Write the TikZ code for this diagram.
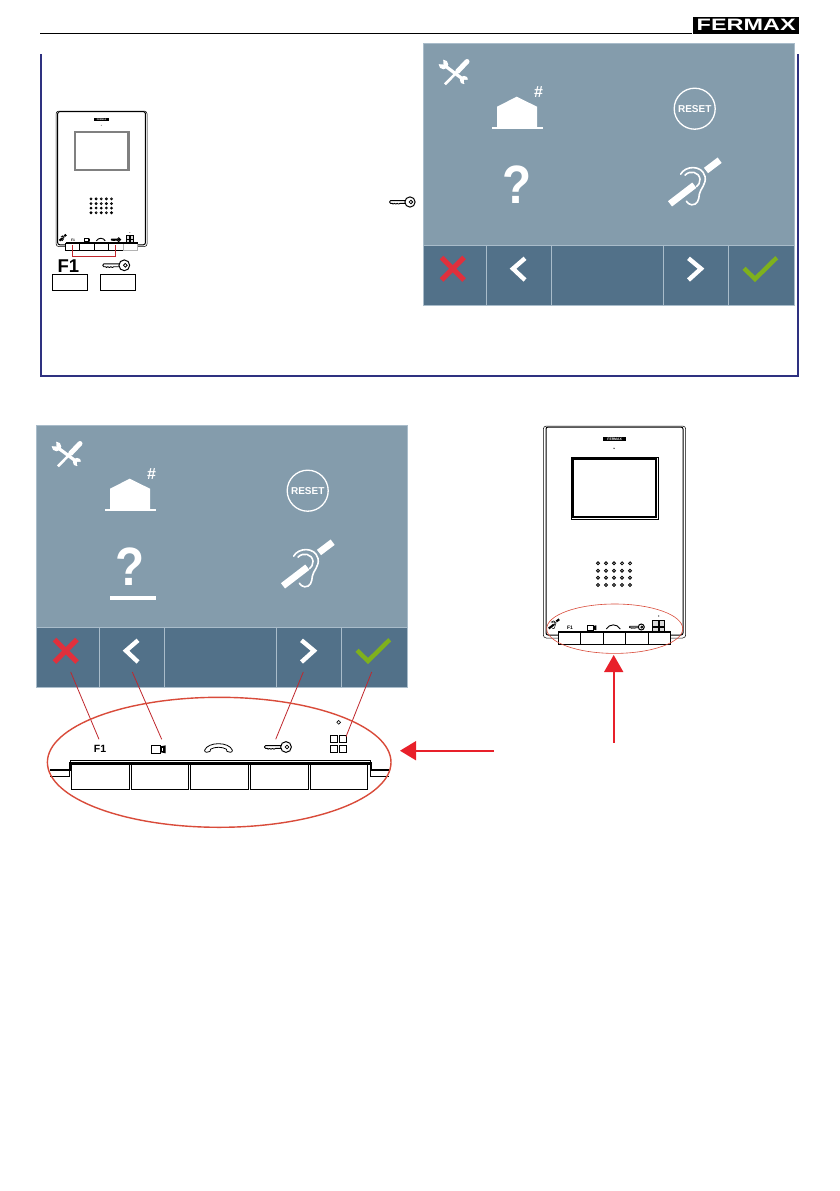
\documentclass[tikz,border=0pt]{standalone}
\usepackage{fontspec}
\usepackage{graphicx}
\usetikzlibrary{shapes.geometric}
\setmainfont{Liberation Sans}
\definecolor{scr}{HTML}{849CAC}
\definecolor{scrbar}{HTML}{527189}
\definecolor{scrline}{HTML}{A9BCCA}
\definecolor{frameblue}{HTML}{2E3180}
\definecolor{xred}{HTML}{E0303C}
\definecolor{okgreen}{HTML}{7FB11C}
\definecolor{linkred}{HTML}{C0272D}
\definecolor{ringred}{HTML}{D94B3A}
\definecolor{arrowred}{HTML}{E8202A}
\tikzset{
  txt/.style={inner sep=0pt,outer sep=0pt,text depth=0pt},
  link/.style={linkred,line width=.8pt},
  bigarrow/.style={arrowred,line width=2pt},
  arrowhead/.style={fill=arrowred,draw=none},
  btn/.style={draw=black,line width=1pt,fill=white},
}
% key icon: origin at the centre of the head
\newcommand{\keyicon}[3]{%
  \begin{scope}[shift={(#1,#2)},scale=#3]
    \draw[black,line width=1pt] (0,0) circle (5.4);
    \draw[black,line width=.8pt] (1,0) circle (1.9);
    \draw[black,line width=.9pt,line join=round]
      (-5.2,-1.4) -- (-20.5,-1.4) -- (-21.6,0) -- (-20.5,1.4) -- (-18.5,1.4) -- (-18,2.2) -- (-16.5,1.4) -- (-15,2.2) -- (-13.5,1.4) -- (-12,2.2) -- (-10.5,1.4) -- (-5.2,1.4);
  \end{scope}}
% hearing-loop icon, drawn in units of 1/3 px at scale 1/3
\newcommand{\earicon}[5]{%
  \begin{scope}[shift={(#1,#2)},scale=#3]
    \draw[#4,line width=#5,line cap=round]
      (-43,-25) .. controls (-30,-50) and (20,-55) .. (30,-18)
      .. controls (35,5) and (15,20) .. (13,35)
      .. controls (12,50) and (8,68) .. (-10,67)
      .. controls (-18,66) and (-22,62) .. (-26,56);
    \draw[#4,line width=#5,line cap=round]
      (-30,-22) .. controls (-15,-38) and (12,-32) .. (15,-10)
      .. controls (16,0) and (10,8) .. (5,12);
    \draw[#4,line width=4.2*#5,line cap=butt] (-75,64) -- (-2,8);
    \draw[#4,line width=4.2*#5,line cap=butt] (33,-36) -- (74,-67);
  \end{scope}}
% touch screen panel: origin top-left, 371 x 262
\newcommand{\panel}[2]{%
  \begin{scope}[shift={(#1,#2)}]
    \fill[scr] (0,0) rectangle (371,202);
    \fill[scrbar] (0,202) rectangle (371,262);
    \draw[scrline,line width=.6pt] (0,0) rectangle (371,262);
    \draw[scrline,line width=1pt] (0,202) -- (371,202);
    \foreach \px in {63,128,240,305} \draw[scrline,line width=1pt] (\px,202) -- (\px,262);
    % tools: wrench
    \draw[white,line width=3.2pt] (20.5,21.7) -- (41,37);
    \fill[white] (20.5,21.5) circle (4.8);
    \fill[white] (41,37) circle (4.2);
    \fill[scr] (20.5,21.5) -- (14.5,21) -- (14.5,15) -- (20,15) -- cycle;
    \fill[scr] (41,37) -- (47,36.5) -- (47,43) -- (41.5,43) -- cycle;
    % tools: screwdriver
    \draw[white,line width=2.6pt] (22,41.3) -- (34.7,28.3);
    \draw[white,line width=5pt,line cap=round] (34.7,28.3) -- (44,18.5);
    % house
    \fill[white] (74,84.5) -- (74,63.7) -- (93.7,53.7) -- (114,63.7) -- (114,84.5) -- cycle;
    \draw[white,line width=1.5pt] (69,85.2) -- (120,85.2);
    \node[txt,white,font=\bfseries\fontsize{16}{16}\selectfont] at (115.5,49) {\#};
    % reset
    \draw[white,line width=1.3pt] (271.7,65.7) circle (20.5);
    \node[txt,white,font=\bfseries\fontsize{10}{10}\selectfont] at (271.7,65.7) {RESET};
    % help
    \node[txt,white,font=\bfseries\fontsize{54}{54}\selectfont] at (94.5,142) {\scalebox{.88}[1]{?}};
    % hearing
    \earicon{272}{139.5}{.3333}{white}{1.6pt}
    % bar symbols
    \draw[xred,line width=5pt] (18.5,214.5) -- (41,237);
    \draw[xred,line width=5pt] (41,214.5) -- (18.5,237);
    \draw[white,line width=4.4pt,line join=miter] (102,215.3) -- (90,225.7) -- (102,237);
    \draw[white,line width=4.4pt,line join=miter] (265.5,215.3) -- (278,225.7) -- (265.5,237);
    \draw[okgreen,line width=4.4pt,line join=miter] (321,225.3) -- (332,236) -- (353.7,214.7);
  \end{scope}}
% intercom front: origin top-left, full size 142.4 x 218
% #1 x, #2 y, #3 scale, #4 screen colour, #5 last button colour, #6 logo font size, #7 F1 font size
\newcommand{\monitor}[7]{%
  \begin{scope}[shift={(#1,#2)},scale=#3]
    \draw[black,line width=.5pt,rounded corners=3pt] (15,212) -- (0,212) -- (0,0) -- (142.4,0) -- (142.4,212) -- (127,212);
    \draw[black,line width=1pt,rounded corners=2pt] (15,209) -- (2.7,209) -- (2.7,1) -- (139.7,1) -- (139.7,209) -- (127,209);
    \fill[black] (60,10.7) rectangle (82.7,15);
    \node[txt,white,font=\bfseries\fontsize{#6}{4}\selectfont] at (71.3,12.9) {FERMAX};
    \fill[black] (70.7,22.3) circle (.7);
    \draw[#4,line width=.7pt] (28,31.3) rectangle (114.7,93.3);
    \draw[#4,line width=1.8pt] (30,33.3) rectangle (112.7,91.3);
    \foreach \gx in {54.7,62.7,70.7,78.7,86.7}
      \foreach \gy in {137.3,144.7,151.7,159}
        \draw[black,line width=.8pt] (\gx,\gy) circle (1.5);
    \earicon{10.7}{198}{.07}{black}{.5pt}
    \node[txt,font=\bfseries\fontsize{#7}{5}\selectfont] at (26.7,201.5) {F1};
    \draw[black,line width=.9pt,fill=white] (44.5,199.5) rectangle (50,204);
    \fill[black] (50,200) -- (53,199.3) -- (53,204.2) -- (50,203.5) -- cycle;
    \draw[black,line width=.9pt] (63,203) .. controls (66,197.5) and (74,197.5) .. (77,203);
    \keyicon{98}{201}{.55}
    \foreach \gx/\gy in {109.5/194.5,116/194.5,109.5/201,116/201}
      \draw[black,line width=.9pt,fill=black!15] (\gx,\gy) rectangle ++(5.5,5.5);
    \fill[black] (115.4,190) circle (.7);
    \draw[btn] (15,206.8) rectangle (37.3,218);
    \draw[btn] (37.3,206.8) rectangle (60,218);
    \draw[btn] (60,206.8) rectangle (82.4,218);
    \draw[btn] (82.4,206.8) rectangle (104.7,218);
    \draw[#5,line width=1pt,fill=white] (104.7,206.8) rectangle (127.4,218);
    \draw[black,line width=1.8pt] (15,206.3) -- (127.4,206.3);
  \end{scope}}
\begin{document}
\begin{tikzpicture}[x=1pt,y=-1pt]
  \useasboundingbox (0,0) rectangle (839,1191);
  \fill[white] (0,0) rectangle (839,1191);
  % header
  \draw[black,line width=1pt] (40,33.3) -- (692,33.3);
  \node[draw=none,fill=black,minimum width=106pt,minimum height=17pt,inner sep=0pt,anchor=north west] (logo) at (693,16.3) {};
  \node[txt,white,font=\bfseries\fontsize{16.5}{16.5}\selectfont] (logotext) at (logo.center) {\scalebox{1.42}[1]{FERMAX}};
  % blue frame
  \draw[frameblue,line width=2.2pt,line join=miter] (41,54) -- (41,376) -- (798,376) -- (798,54);
  % panels
  \panel{423}{43}
  \panel{36}{425}
  % selection bar
  \fill[white] (110,596) rectangle (156,600);
  % small monitor in the box
  \monitor{56}{111}{.64}{black!50}{black!30}{2.2}{3.4}
  \coordinate (bracketA) at (72.3,245);
  \coordinate (bracketB) at (115.7,245);
  \coordinate (bracketC) at (72.3,256.3);
  \coordinate (bracketD) at (115.7,256.3);
  \draw[linkred,line width=.8pt] (bracketA) -- (bracketC) -- (bracketD) -- (bracketB);
  \node[txt,font=\bfseries\fontsize{18.5}{18}\selectfont] (smallF) at (68.3,265.7) {F1};
  \keyicon{124.3}{265.3}{1}
  \draw[black,line width=.8pt] (52.3,274.3) rectangle (87.7,290.3);
  \draw[black,line width=.8pt] (100.3,274.3) rectangle (135.7,290.3);
  \keyicon{410}{202}{.95}
  % large monitor
  \monitor{543.3}{426}{1}{black}{black}{3.4}{5}
  \node[draw=ringred,line width=.6pt,ellipse,minimum width=136pt,minimum height=49.4pt,inner sep=0pt] (ringB) at (614.7,628.7) {};
  \coordinate (vTail) at (613.7,742.7);
  \coordinate (vBase) at (613.7,672);
  \coordinate (vTip) at (613.7,655);
  \draw[bigarrow] (vTail) -- (vBase);
  \fill[arrowhead] (vTip) -- (604,672) -- (623.4,672) -- cycle;
  % keypad enlargement
  \draw[black,line width=.8pt] (70,760.3) -- (370.3,760.3);
  \draw[black,line width=.8pt] (70,760.3) -- (70,764);
  \draw[black,line width=.8pt] (370.3,760.3) -- (370.3,764);
  \foreach \xa/\xb in {71.3/129.3,131.3/188.7,190.3/248.7,250.3/308.3,310.3/367.3}
    \draw[black,line width=.8pt,fill=white] (\xa,764) rectangle (\xb,789.3);
  \draw[black,line width=2.6pt] (69,763.6) -- (371.5,763.6);
  \draw[black,line width=2pt] (50,769.5) -- (69.5,769.5) -- (69.5,763);
  \draw[black,line width=2pt] (389,769.5) -- (370.5,769.5) -- (370.5,763);
  \draw[black,line width=.6pt] (50,776.6) -- (69.5,776.6) -- (69.5,770);
  \draw[black,line width=.6pt] (389,776.6) -- (370.5,776.6) -- (370.5,770);
  \node[txt,font=\bfseries\fontsize{10.5}{10}\selectfont] (f1) at (100,749) {F1};
  \draw[black,line width=.9pt] (151.7,745.6) rectangle (160.7,753);
  \fill[black] (160.7,746.3) -- (165.7,745.3) -- (165.7,753.3) -- (160.7,752.3) -- cycle;
  \fill[white] (162,747.6) rectangle (163.4,751);
  \draw[black,line width=.8pt,fill=white,line join=round]
    (204.6,750.2) .. controls (208,741.5) and (229,741.5) .. (232.4,750.2)
    .. controls (232.6,752.8) and (228.6,752.8) .. (227,751.4) -- (226.4,749.2)
    .. controls (222,746.6) and (215,746.6) .. (210.6,749.2) -- (210,751.4)
    .. controls (208.4,752.8) and (204.4,752.8) .. (204.6,750.2) -- cycle;
  \keyicon{286}{747}{1}
  \foreach \gx/\gy in {330.7/735,339.7/735,330.7/745.7,339.7/745.7}
    \draw[black,line width=1pt] (\gx,\gy) rectangle ++(6.6,7.2);
  \draw[black,line width=.6pt] (338.7,722.3) circle (1.9);
  % links from the panel to the keypad
  \coordinate (cancelBtn) at (70.7,672);
  \coordinate (prevBtn) at (132.3,672);
  \coordinate (nextBtn) at (303.3,672);
  \coordinate (okBtn) at (371.7,672);
  \coordinate (f1Key) at (99,739.3);
  \coordinate (camKey) at (161.7,739.3);
  \coordinate (doorKey) at (275.7,739.3);
  \coordinate (menuKey) at (346,736.7);
  \draw[link] (cancelBtn) -- (f1Key);
  \draw[link] (prevBtn) -- (camKey);
  \draw[link] (nextBtn) -- (doorKey);
  \draw[link] (okBtn) -- (menuKey);
  % big ring and arrow
  \node[draw=ringred,line width=1.4pt,ellipse,minimum width=343.6pt,minimum height=130pt,inner sep=0pt] (ringA) at (219.2,762.3) {};
  \coordinate (hTail) at (494,750.7);
  \coordinate (hBase) at (416,750.7);
  \coordinate (hTip) at (400,750.7);
  \draw[bigarrow] (hTail) -- (hBase);
  \fill[arrowhead] (hTip) -- (416,741) -- (416,760.4) -- cycle;
\end{tikzpicture}
\end{document}
